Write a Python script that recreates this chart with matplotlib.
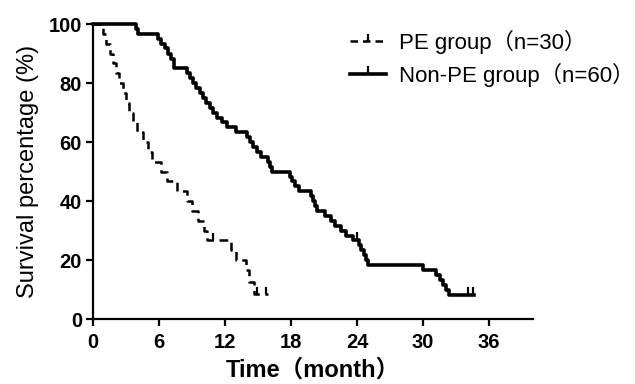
import matplotlib
matplotlib.use('Agg')
import matplotlib.pyplot as plt
from matplotlib.lines import Line2D

plt.rcParams['font.family'] = ['Liberation Sans', 'Noto Sans CJK SC', 'DejaVu Sans']

# PE group: step times (months) and survival (%) after each step
pe_t = [0, 0.9, 1.2, 1.5, 1.8, 2.1, 2.4, 2.7, 3.0, 3.3, 3.6, 4.0, 4.5, 5.0, 5.4,
        6.2, 6.7, 7.6, 8.5, 9.0, 9.5, 10.1, 10.4, 12.5, 13.0, 13.9, 14.2, 14.6, 15.9]
pe_s = [100, 96.7, 93.3, 90, 86.7, 83.3, 80, 76.7, 73.3, 70, 66.7, 63.3, 60, 56.7, 53.3,
        50, 46.7, 43.3, 40, 36.7, 33.3, 30, 26.7, 23.3, 19.9, 16.5, 12.6, 8.4, 8.4]
pe_cens_t = [10.9, 14.9, 15.7]
pe_cens_s = [26.7, 8.4, 8.4]

# Non-PE group
non_t = [0, 3.9, 4.1, 5.9, 6.2, 6.5, 6.8, 7.1, 7.4, 8.5, 8.8, 9.1, 9.4, 9.7, 10.0,
         10.3, 10.6, 10.9, 11.3, 11.7, 12.2, 13.0, 14.0, 14.3, 14.5, 14.9, 15.3, 15.9,
         16.1, 16.3, 17.9, 18.1, 18.4, 18.7, 19.8, 20.0, 20.2, 20.4, 21.1, 21.6, 22.0,
         22.5, 23.0, 23.6, 24.2, 24.4, 24.6, 24.8, 25.0, 30.0, 31.2, 31.5, 31.8, 32.1,
         32.4, 34.6]
non_s = [100, 98.3, 96.7, 95, 93.3, 91.7, 90, 88.3, 85, 83.3, 81.7, 80, 78.3, 76.7, 75,
         73.3, 71.7, 70, 68.3, 66.7, 65, 63.3, 61.7, 60, 58.3, 56.7, 55, 53.3,
         51.7, 50, 48.3, 46.7, 45, 43.3, 41.7, 40, 38.3, 36.7, 35, 33.3, 31.7,
         30, 28.3, 26.7, 25, 23.3, 21.7, 20, 18.3, 16.7, 15, 13.3, 11.7, 10,
         8.3, 8.3]
non_cens_t = [24.0, 34.1, 34.5]
non_cens_s = [26.7, 8.3, 8.3]

x_ticks = [0, 6, 12, 18, 24, 30, 36]
y_ticks = [0, 20, 40, 60, 80, 100]

fig = plt.figure(figsize=(6.35, 3.84), dpi=100)
ax = fig.add_axes([0.1465, 0.169, 0.693, 0.7685])

ax.step(pe_t, pe_s, where='post', color='black', lw=1.8,
        linestyle=(0, (3.5, 2.2)), clip_on=False)
ax.plot(pe_cens_t, pe_cens_s, linestyle='none', marker=2, ms=5, mew=1.6,
        color='black', clip_on=False)
ax.step(non_t, non_s, where='post', color='black', lw=2.6, clip_on=False)
ax.plot(non_cens_t, non_cens_s, linestyle='none', marker=2, ms=6, mew=1.6,
        color='black', clip_on=False)

ax.set_xlim(0, 40)
ax.set_ylim(0, 100)
ax.set_xticks(x_ticks)
ax.set_yticks(y_ticks)
for s in ['top', 'right']:
    ax.spines[s].set_visible(False)
for s in ['left', 'bottom']:
    ax.spines[s].set_linewidth(1.6)
ax.tick_params(direction='out', length=5, width=1.6, labelsize=14.5, pad=3)
ax.tick_params(axis='x', pad=5)
for lab in ax.get_xticklabels() + ax.get_yticklabels():
    lab.set_fontweight('bold')

ax.set_xlabel('Time（month）', fontsize=17, fontweight='bold', labelpad=5)
ax.set_ylabel('Survival percentage (%)', fontsize=17, labelpad=7)

handles = [
    Line2D([], [], color='black', lw=1.8, linestyle=(0, (3, 2)), marker=2, ms=5, mew=1.6),
    Line2D([], [], color='black', lw=2.6, marker=2, ms=6, mew=1.6),
]
fig.legend(handles, ['PE group（n=30）', 'Non-PE group（n=60）'],
           loc='upper left', bbox_to_anchor=(0.52, 0.975), frameon=False,
           fontsize=16, handlelength=1.6, labelspacing=0.4, handletextpad=0.6)

fig.savefig('out.png', dpi=100)
